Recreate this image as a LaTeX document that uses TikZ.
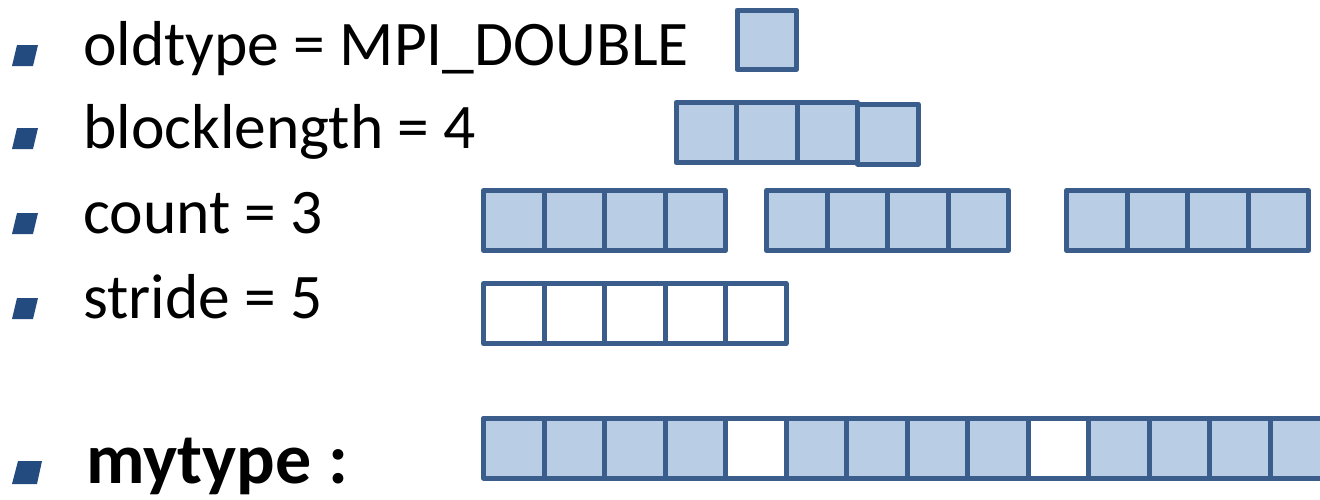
\documentclass[tikz,border=0pt]{standalone}
\usepackage{fontspec}
\setmainfont{Carlito}
\definecolor{cellline}{HTML}{3A5D8B}
\definecolor{cellfill}{HTML}{B9CDE5}
\definecolor{bulletc}{HTML}{234B7F}
\tikzset{
  cell/.style={draw=cellline, line width=5pt, line join=round, fill=cellfill,
    minimum width=60.5pt, minimum height=60pt, inner sep=0pt, outer sep=0pt, anchor=north west},
  emptycell/.style={cell, fill=white},
  label/.style={anchor=base west, inner sep=0pt, font=\fontsize{63.5}{76}\selectfont},
  boldlabel/.style={label, font=\fontsize{72}{86}\selectfont\bfseries},
  bullet/.style={fill=bulletc}
}
\begin{document}
\begin{tikzpicture}[x=1pt,y=-1pt]
\useasboundingbox (0,0) rectangle (1320,499);
\begin{scope}
\clip (0,0) rectangle (1320,499);
% bullets
\fill[bullet] (17,45) -- (38,45) -- (33,66) -- (12,66) -- cycle;
\fill[bullet] (17,128) -- (38,128) -- (33,149) -- (12,149) -- cycle;
\fill[bullet] (17,213) -- (38,213) -- (33,234) -- (12,234) -- cycle;
\fill[bullet] (17,298) -- (38,298) -- (33,319) -- (12,319) -- cycle;
\fill[bullet] (18,461) -- (42,461) -- (37,484) -- (12,484) -- cycle;
% labels
\node[label] (t1) at (83,65) {oldtype = MPI\_DOUBLE};
\node[label] (t2) at (83,148) {blocklength = 4};
\node[label] (t3) at (83,233) {count = 3};
\node[label] (t4) at (83,318) {stride = 5};
\node[boldlabel] (t5) at (86,483) {mytype :};
% oldtype
\node[cell, minimum width=59.5pt, minimum height=59.5pt] (old) at (737,10) {};
% blocklength
\foreach \i in {0,1,2} {\node[cell] (bl\i) at (676+60.5*\i,102.5) {};}
\node[cell] (bl3) at (676+60.5*3,104) {};
% count
\foreach \g/\x in {0/483.5,1/766.5,2/1066.5} {
  \foreach \i in {0,...,3} {\node[cell] (c\g\i) at (\x+60.5*\i,190.5) {};}
}
% stride
\foreach \i in {0,...,4} {\node[emptycell] (s\i) at (483.5+60.5*\i,283.5) {};}
% mytype
\foreach \i in {0,...,13} {
  \ifnum\i=4 \node[emptycell] (m\i) at (483.5+60.5*\i,418) {};
  \else\ifnum\i=9 \node[emptycell] (m\i) at (483.5+60.5*\i,418) {};
  \else \node[cell] (m\i) at (483.5+60.5*\i,418) {};
  \fi\fi
}
\end{scope}
\end{tikzpicture}
\end{document}
